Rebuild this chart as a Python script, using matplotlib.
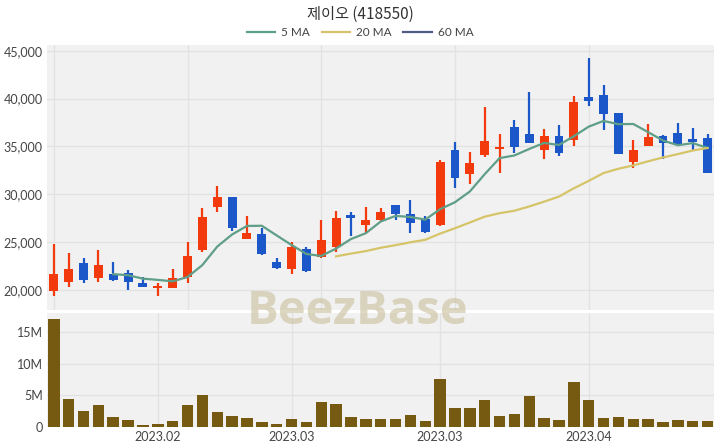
import matplotlib.pyplot as plt
import numpy as np
from matplotlib.ticker import FuncFormatter

plt.rcParams['font.family'] = ['Lato', 'Noto Sans CJK KR', 'DejaVu Sans']

# daily candles (index = trading day)
opens = [19900, 20870, 22790, 21220, 21640, 21750, 20700, 20180, 20240, 21390,
         24190, 28710, 29760, 25340, 25860, 22960, 22170, 24260, 23420, 24530,
         27810, 26800, 27320, 28890, 27920, 27430, 26800, 34650, 32100, 34120,
         34720, 37020, 36320, 34650, 36110, 35690, 40160, 40400, 38480, 33420,
         35060, 36110, 36450, 35800, 35930]
highs = [24780, 23840, 23320, 24190, 22960, 22090, 21390, 20760, 22170, 24990,
         28550, 30880, 29760, 27770, 26450, 23320, 25050, 24530, 27320, 28260,
         28190, 28710, 28610, 28890, 29420, 27740, 33600, 35510, 34470, 39170,
         36290, 37780, 40740, 36810, 37260, 40290, 44240, 41440, 38480, 35690,
         37330, 36210, 37440, 36910, 36290]
lows = [19370, 20350, 20700, 20870, 20970, 20000, 20350, 19370, 20240, 20760,
        24010, 28130, 26200, 25340, 23660, 22170, 21640, 21850, 23320, 23940,
        25680, 25990, 27150, 27320, 25990, 25930, 26730, 30640, 31090, 33880,
        32210, 34360, 35350, 33670, 34020, 35060, 39250, 36740, 34200, 32790,
        35060, 33670, 35060, 34650, 32210]
closes = [21650, 22170, 21050, 22580, 21050, 20870, 20350, 20420, 21290, 23560,
          27670, 29700, 26520, 25990, 23740, 22270, 24470, 21990, 25230, 27560,
          27500, 27320, 28190, 27950, 26980, 26040, 33420, 31680, 33320, 35590,
          34930, 34990, 35350, 36110, 34360, 39700, 39800, 38380, 34200, 34650,
          36040, 35350, 35240, 35510, 32210]
volumes_m = [16.96, 4.48, 2.48, 3.53, 1.58, 1.16, 0.37, 0.42, 1.0, 3.47,
             5.11, 2.32, 1.79, 1.37, 0.84, 0.42, 1.26, 0.74, 3.9, 3.58,
             1.64, 1.32, 1.32, 1.21, 1.95, 0.9, 7.53, 3.06, 3.06, 4.32,
             1.79, 2.06, 4.95, 1.42, 1.16, 7.11, 4.32, 1.48, 1.64, 1.32,
             1.26, 0.74, 1.11, 0.9, 1.0]

# moving averages
ma5_start = 4
ma5 = [21650, 21540, 21180, 21050, 20900, 21350, 22600, 24530, 25800, 26690,
       26710, 25700, 24700, 23760, 23550, 24330, 25320, 25930, 27150, 27740,
       27630, 27350, 28440, 29170, 30290, 32100, 33780, 34060, 34740, 35370,
       35160, 36070, 37070, 37670, 37330, 37350, 36500, 35620, 35130, 35350,
       34850]
ma20_start = 19
ma20 = [23510, 23800, 24060, 24410, 24680, 24980, 25240, 25890, 26450, 27050,
        27660, 28020, 28280, 28730, 29230, 29760, 30630, 31400, 32220, 32670,
        33020, 33450, 33850, 34200, 34580, 34840]

xtick_pos = [7, 16, 26, 36]
xtick_labels = ['2023.02', '2023.03', '2023.03', '2023.04']
price_grid_x = [0, 9, 18, 27, 36]

up_color = '#f23a0c'
down_color = '#1c57c9'
bg = '#f1f1f1'
grid_c = '#e2e2e2'

fig = plt.figure(figsize=(7.2, 4.48), dpi=100)
ax = fig.add_axes([0.065, 0.308, 0.927, 0.592])
axv = fig.add_axes([0.065, 0.047, 0.927, 0.254])

x = np.arange(len(closes))
o = np.array(opens)
c = np.array(closes)
colors = [up_color if cc >= oo else down_color for oo, cc in zip(o, c)]
body_bottom = np.minimum(o, c)
body_h = np.maximum(np.abs(c - o), 60)

ax.vlines(x, lows, highs, colors=colors, linewidth=1.6, zorder=3)
ax.bar(x, body_h, bottom=body_bottom, width=0.6, color=colors, zorder=3)
l5, = ax.plot(np.arange(ma5_start, ma5_start + len(ma5)), ma5, color='#5f9e87', lw=1.6, zorder=4)
l20, = ax.plot(np.arange(ma20_start, ma20_start + len(ma20)), ma20, color='#d6c468', lw=1.6, zorder=4)
l60, = ax.plot([], [], color='#4e5c86', lw=1.6)

ax.set_xlim(-0.47, 44.45)
ax.set_ylim(17900, 45630)
ax.set_yticks([20000, 25000, 30000, 35000, 40000, 45000])
ax.yaxis.set_major_formatter(FuncFormatter(lambda v, p: f'{int(v):,}'))
ax.set_xticks(price_grid_x)
ax.set_xticklabels([])

axv.bar(x, volumes_m, width=0.77, color='#765a12', zorder=3)
axv.set_xlim(-0.47, 44.45)
axv.set_ylim(0, 17.95)
axv.set_yticks([0, 5, 10, 15])
axv.set_yticklabels(['0', '5M', '10M', '15M'])
axv.set_xticks(xtick_pos)
axv.set_xticklabels(xtick_labels)

for a in (ax, axv):
    a.set_facecolor(bg)
    a.grid(True, color=grid_c, linewidth=1, zorder=0)
    a.set_axisbelow(True)
    for s in a.spines.values():
        s.set_visible(False)
    a.tick_params(length=0, labelsize=9, colors='#444444', pad=3)

fig.text(0.5, 0.968, '제이오 (418550)', ha='center', va='center', fontsize=11,
         color='#333333', family=['Noto Sans CJK KR', 'DejaVu Sans'])
fig.legend([l5, l20, l60], ['5 MA', '20 MA', '60 MA'], loc='center',
           bbox_to_anchor=(0.5, 0.928), ncol=3, frameon=False, fontsize=8.5,
           handlelength=2.4, columnspacing=1.0, handletextpad=0.5,
           labelcolor='#444444')

fig.text(0.496, 0.305, 'BeezBase', ha='center', va='center', fontsize=34,
         fontweight='bold', color='#c9bf9c', alpha=0.6, family='Open Sans', zorder=10)

fig.savefig('out.png', dpi=100)
